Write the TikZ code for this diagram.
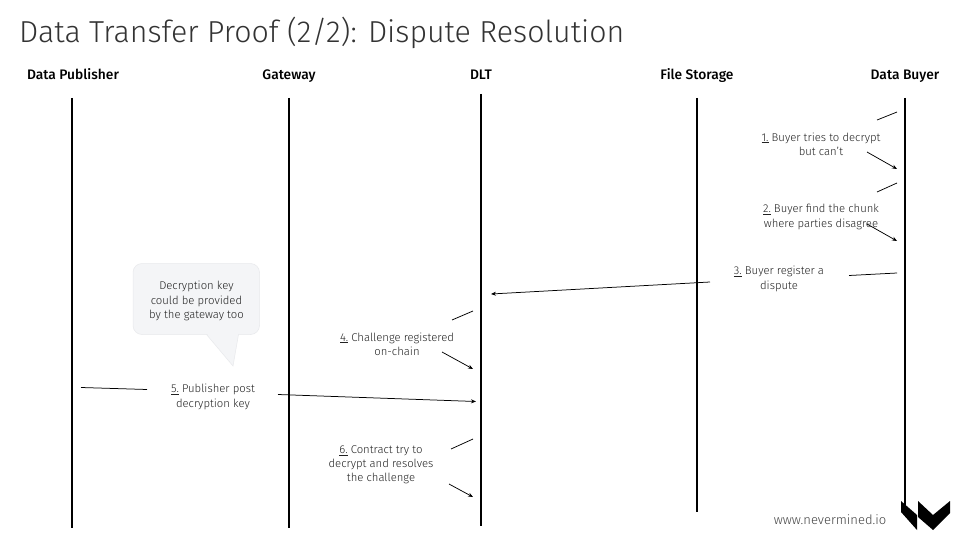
\documentclass[tikz,border=0pt]{standalone}
\usepackage{fontspec}
\setmainfont{Fira Sans}[UprightFont=* Light,BoldFont=* Medium]
\usetikzlibrary{arrows.meta}
\definecolor{txt}{HTML}{222222}
\definecolor{titlec}{HTML}{333333}
\definecolor{bubble}{HTML}{F4F5F7}
\definecolor{bubbleline}{HTML}{E8E9EC}
\tikzset{
  life/.style={line width=1.5pt,black},
  hdr/.style={font=\fontsize{13.8}{15}\selectfont\bfseries,text=black,inner sep=0pt,anchor=base},
  lbl/.style={font=\fontsize{11.3}{14.2}\selectfont,text=txt,align=center,inner sep=0pt,anchor=center},
  conn/.style={line width=0.75pt,black},
  arr/.style={conn,-{Stealth[length=5pt,width=4pt]}}
}
\newcommand{\ul}[1]{\underline{#1}}
\begin{document}
\begin{tikzpicture}[x=1pt,y=-1pt]
\useasboundingbox (0,0) rectangle (960,540);
\fill[white] (0,0) rectangle (960,540);
\node[font=\fontsize{30.35}{36}\selectfont,text=titlec,anchor=west,inner sep=0pt] (title) at (19,33) {Data Transfer Proof (2/2): Dispute Resolution};
\node[hdr] (h1) at (73,79.5) {Data Publisher};
\node[hdr] (h2) at (289,79.5) {Gateway};
\node[hdr] (h3) at (481,79.5) {DLT};
\node[hdr] (h4) at (697,79.5) {File Storage};
\node[hdr] (h5) at (905,79.5) {Data Buyer};
\coordinate (p1) at (72,98); \coordinate (p2) at (72,528);
\coordinate (g1) at (289,98); \coordinate (g2) at (289,528);
\coordinate (d1) at (481,94); \coordinate (d2) at (481,526);
\coordinate (f1) at (697,98); \coordinate (f2) at (697,512);
\coordinate (b1) at (905,98); \coordinate (b2) at (905,505);
\draw[life] (p1)--(p2); \draw[life] (g1)--(g2); \draw[life] (d1)--(d2); \draw[life] (f1)--(f2); \draw[life] (b1)--(b2);
% bubble
\fill[bubble,draw=bubbleline,line width=0.5pt,rounded corners=9pt] (133,263.5) rectangle (259.5,334.5);
\path[fill=bubble,draw=bubbleline,line width=0.5pt] (206.5,334.5) -- (233,366) -- (238.5,334.5);
\fill[bubble] (207.5,332) rectangle (237.8,335);
\node[lbl] (bt) at (196.5,301) {Decryption key\\could be provided\\by the gateway too};
% labels
\node[lbl] (l1) at (821,144) {\ul{1.} Buyer tries to decrypt\\but can't};
\node[lbl] (l2) at (821,217) {\ul{2.} Buyer find the chunk\\where parties disagree};
\node[lbl] (l3) at (779,279) {\ul{3.} Buyer register a\\dispute};
\node[lbl] (l4) at (397,344) {\ul{4.} Challenge registered\\on-chain};
\node[lbl] (l5) at (213,397) {\ul{5.} Publisher post\\decryption key};
\node[lbl] (l6) at (381,465) {\ul{6.} Contract try to\\decrypt and resolves\\the challenge};
% connectors
\coordinate (a1s) at (897,112); \coordinate (a1m) at (877,120);
\coordinate (a1n) at (867,152); \coordinate (a1e) at (897,169);
\coordinate (a2s) at (897,183); \coordinate (a2m) at (877,192);
\coordinate (a2n) at (867,224); \coordinate (a2e) at (897,241);
\coordinate (a3s) at (897,273); \coordinate (a3m) at (849,275.5);
\coordinate (a3n) at (710,282); \coordinate (a3e) at (491,294);
\coordinate (a4s) at (473,311); \coordinate (a4m) at (452,320);
\coordinate (a4n) at (442,352); \coordinate (a4e) at (473,369);
\coordinate (a5s) at (81,387.5); \coordinate (a5m) at (147,389.5);
\coordinate (a5n) at (278,394.5); \coordinate (a5e) at (476,401.5);
\coordinate (a6s) at (473,439); \coordinate (a6m) at (451,449);
\coordinate (a6n) at (449,484); \coordinate (a6e) at (473,497);
\draw[conn] (a1s)--(a1m); \draw[arr] (a1n)--(a1e);
\draw[conn] (a2s)--(a2m); \draw[arr] (a2n)--(a2e);
\draw[conn] (a3s)--(a3m); \draw[arr] (a3n)--(a3e);
\draw[conn] (a4s)--(a4m); \draw[arr] (a4n)--(a4e);
\draw[conn] (a5s)--(a5m); \draw[arr] (a5n)--(a5e);
\draw[conn] (a6s)--(a6m); \draw[arr] (a6n)--(a6e);
% footer
\node[font=\fontsize{13}{15}\selectfont,text=txt!85,anchor=center,inner sep=0pt] (web) at (830,520) {www.nevermined.io};
\fill[black] (901,501) -- (917,515) -- (917,530) -- (901,512) -- cycle;
\fill[black] (918,501) -- (933,515) -- (950,501) -- (950,513) -- (933,530) -- (918,517) -- cycle;
\end{tikzpicture}
\end{document}
